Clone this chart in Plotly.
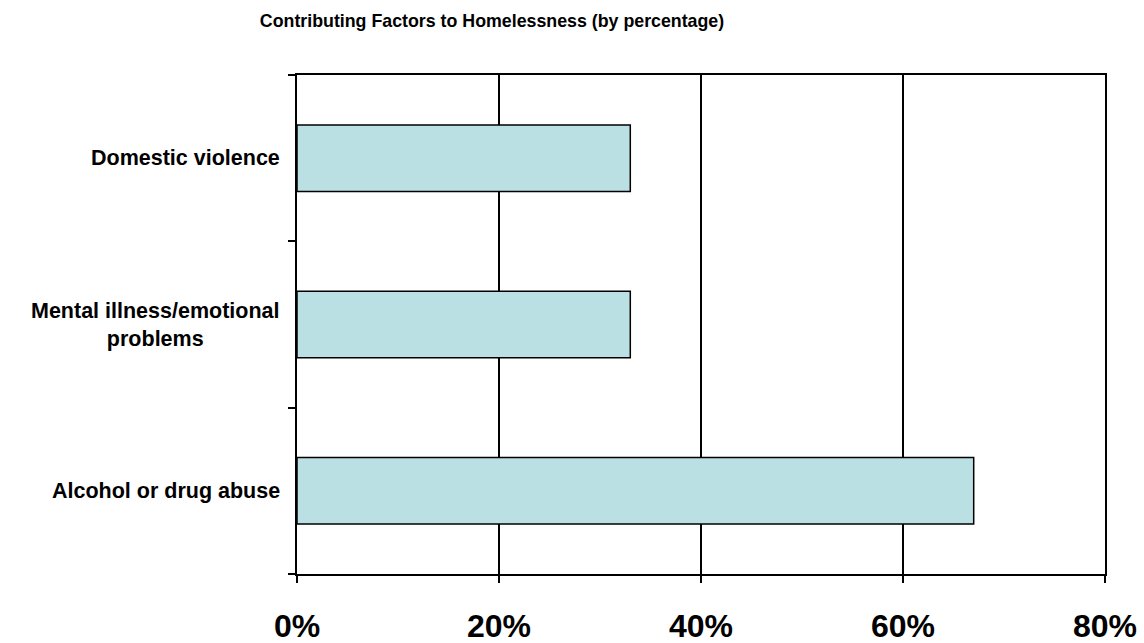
import plotly.graph_objects as go

categories = ["Alcohol or drug abuse", "Mental illness/emotional problems", "Domestic violence"]
display_labels = ["Alcohol or drug abuse", "Mental illness/emotional<br>problems", "Domestic violence"]
values = [67, 33, 33]
tick_values = [0, 20, 40, 60, 80]
tick_labels = ["0%", "20%", "40%", "60%", "80%"]
title_text = "Contributing Factors to Homelessness (by percentage)"

FONT = "Liberation Sans, Arial, sans-serif"

fig = go.Figure()
fig.add_trace(go.Bar(
    x=values, y=categories, orientation="h",
    marker=dict(color="#BBE0E3", line=dict(color="black", width=1.5)),
    hoverinfo="skip",
))

for cat, lab in zip(categories, display_labels):
    fig.add_annotation(
        x=0, xref="paper", y=cat, yref="y", text=lab, showarrow=False,
        xanchor="right", yanchor="middle", xshift=-15, align="center",
        font=dict(family=FONT, size=21.5, color="black", weight="bold"),
    )

fig.update_layout(
    width=1144, height=643,
    margin=dict(l=297, r=39, t=75, b=69, autoexpand=False),
    paper_bgcolor="white", plot_bgcolor="white",
    showlegend=False, bargap=0.6,
    title=dict(text=title_text, x=492/1144, xanchor="center", xref="container",
               y=1 - 21/643, yanchor="middle", yref="container",
               font=dict(family=FONT, size=17.8, color="black", weight="bold")),
    xaxis=dict(range=[0, 80], tickvals=tick_values, ticktext=tick_labels,
               showgrid=True, gridcolor="black", gridwidth=1.5,
               showline=True, linecolor="black", linewidth=2, mirror=True,
               ticks="outside", ticklen=7, tickwidth=2, tickcolor="black",
               ticklabelstandoff=16, zeroline=False, automargin=False,
               tickfont=dict(family=FONT, size=32, color="black", weight="bold")),
    yaxis=dict(range=[-0.5, 2.5], type="category", showticklabels=False,
               tickson="boundaries", ticks="outside", ticklen=7, tickwidth=2,
               tickcolor="black", showgrid=False, automargin=False,
               showline=True, linecolor="black", linewidth=2, mirror=True),
)

fig.write_html("out.html")
